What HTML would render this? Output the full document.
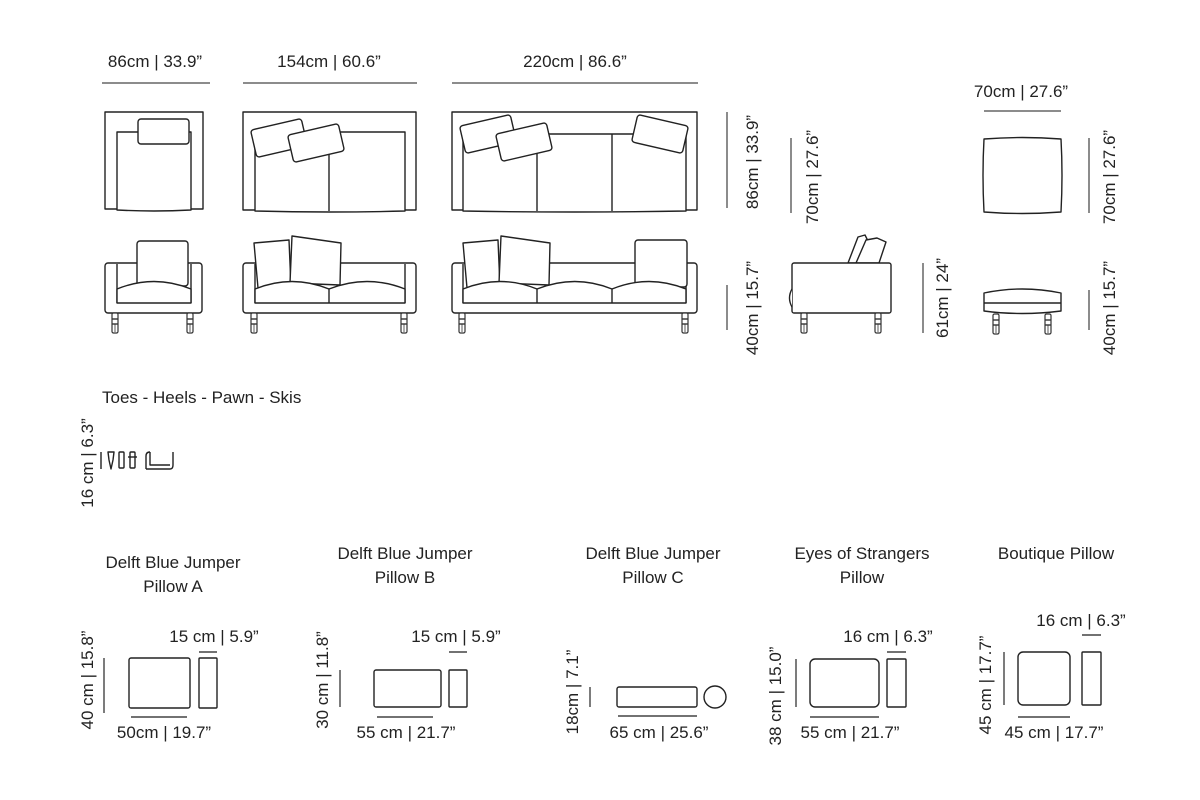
<!DOCTYPE html>
<html><head><meta charset="utf-8"><style>
html,body{margin:0;padding:0;background:#fff;}
svg{display:block;}
text{font-family:"Liberation Sans",sans-serif;fill:#222;font-size:17px;}
</style></head><body>
<svg width="1200" height="800" viewBox="0 0 1200 800" xmlns="http://www.w3.org/2000/svg">
<defs>
<g id="leg">
<rect x="-3" y="0" width="6" height="20" rx="1.5" fill="#fff" stroke="#333" stroke-width="1.2"/>
<line x1="-3" y1="6" x2="3" y2="6" stroke="#333"/>
<line x1="-3" y1="11" x2="3" y2="11" stroke="#333"/>
<line x1="0" y1="11" x2="0" y2="19" stroke="#333" stroke-width="0.8"/>
</g>
</defs>
<g stroke="#222" stroke-width="1.4" fill="#fff" stroke-linejoin="round">
<!-- dimension lines top -->
<g stroke="#666" stroke-width="1.5">
<line x1="102" y1="83" x2="210" y2="83"/>
<line x1="243" y1="83" x2="417" y2="83"/>
<line x1="452" y1="83" x2="698" y2="83"/>
<line x1="727" y1="112" x2="727" y2="208"/>
<line x1="791" y1="138" x2="791" y2="213"/>
<line x1="727" y1="285" x2="727" y2="330"/>
<line x1="923" y1="263" x2="923" y2="333"/>
<line x1="984" y1="111" x2="1061" y2="111"/>
<line x1="1089" y1="138" x2="1089" y2="213"/>
<line x1="1089" y1="290" x2="1089" y2="330"/>
</g>
<!-- armchair top -->
<rect x="105" y="112" width="98" height="97"/>
<path d="M117 132 H191 V210 Q154 212 117 210 Z"/>
<rect x="138" y="119" width="51" height="25" rx="3"/>
<!-- sofa 154 top -->
<rect x="243" y="112" width="173" height="98"/>
<path d="M255 132 H405 V211 Q330 213 255 211 Z"/>
<line x1="329" y1="132" x2="329" y2="211"/>
<rect x="253" y="124" width="52" height="28" rx="3" transform="rotate(-13 279 138)"/>
<rect x="290" y="129" width="52" height="28" rx="3" transform="rotate(-13 316 143)"/>
<!-- sofa 220 top -->
<rect x="452" y="112" width="245" height="98"/>
<path d="M463 134 H686 V211 Q575 213 463 211 Z"/>
<line x1="537" y1="134" x2="537" y2="211"/>
<line x1="612" y1="134" x2="612" y2="211"/>
<rect x="462" y="120" width="52" height="28" rx="3" transform="rotate(-13 488 134)"/>
<rect x="498" y="128" width="52" height="28" rx="3" transform="rotate(-13 524 142)"/>
<rect x="634" y="120" width="52" height="28" rx="3" transform="rotate(13 660 134)"/>
<!-- armchair front -->
<rect x="105" y="263" width="97" height="50" rx="3"/>
<line x1="117" y1="264" x2="117" y2="303"/>
<line x1="191" y1="264" x2="191" y2="303"/>
<rect x="137" y="241" width="51" height="45" rx="3"/>
<path d="M117 289 Q154 274 191 289 V303 H117 Z"/>
<use href="#leg" x="115" y="313"/><use href="#leg" x="190" y="313"/>
<!-- sofa 154 front -->
<rect x="243" y="263" width="173" height="50" rx="3"/>
<line x1="255" y1="264" x2="255" y2="303"/>
<line x1="405" y1="264" x2="405" y2="303"/>
<path d="M254 243 L289 240 L291 287 L258 288 Z"/>
<path d="M292 236 L341 243 L340 285 L290 283 Z"/>
<path d="M255 289 Q292 274 329 289 Q367 274 405 289 V303 H255 Z"/>
<line x1="329" y1="289" x2="329" y2="303"/>
<use href="#leg" x="254" y="313"/><use href="#leg" x="404" y="313"/>
<!-- sofa 220 front -->
<rect x="452" y="263" width="245" height="50" rx="3"/>
<line x1="463" y1="264" x2="463" y2="303"/>
<line x1="686" y1="264" x2="686" y2="303"/>
<path d="M463 243 L498 240 L500 287 L467 288 Z"/>
<path d="M501 236 L550 243 L549 285 L499 283 Z"/>
<rect x="635" y="240" width="52" height="47" rx="3"/>
<path d="M463 289 Q500 274 537 289 Q575 274 612 289 Q649 274 686 289 V303 H463 Z"/>
<line x1="537" y1="289" x2="537" y2="303"/>
<line x1="612" y1="289" x2="612" y2="303"/>
<use href="#leg" x="462" y="313"/><use href="#leg" x="685" y="313"/>
<!-- side view -->
<path d="M848 263 L858 237 L865 235 L867 239 L857 263 Z"/>
<path d="M856 263 L866 240 L877 238 L886 242 L879 263 Z"/>
<rect x="792" y="263" width="99" height="50" rx="2"/>
<path d="M792 289 Q787 298 792 307"/>
<use href="#leg" x="804" y="313"/><use href="#leg" x="878" y="313"/>
<!-- ottoman -->
<path d="M984 139 Q1022 136 1061 139 Q1063 175 1061 212 Q1022 215 984 212 Q982 175 984 139 Z"/>
<path d="M984 293 Q1022 285 1061 293 V311 Q1022 316 984 311 Z"/>
<line x1="984" y1="303" x2="1061" y2="303"/>
<use href="#leg" x="996" y="314"/><use href="#leg" x="1048" y="314"/>
<!-- legs icons -->
<line x1="101" y1="452" x2="101" y2="469"/>
<path d="M108 452 H114 L113 460 L111 469 L109 460 Z"/>
<rect x="119" y="452" width="5" height="16" rx="1"/>
<rect x="130" y="452" width="5" height="16" rx="1"/>
<line x1="128" y1="457" x2="137" y2="457"/>
<path d="M146 469 V456 Q146 452 150 452 M146 469 H170 Q173 469 173 465 V452 M150 452 V465 H170"/>
<!-- pillows bottom -->
<g stroke="#444">
<line x1="104" y1="658" x2="104" y2="713"/>
<line x1="131" y1="717" x2="187" y2="717"/>
<line x1="199" y1="652" x2="217" y2="652"/>
<line x1="340" y1="670" x2="340" y2="707"/>
<line x1="377" y1="717" x2="433" y2="717"/>
<line x1="449" y1="652" x2="467" y2="652"/>
<line x1="590" y1="687" x2="590" y2="707"/>
<line x1="618" y1="716" x2="697" y2="716"/>
<line x1="796" y1="659" x2="796" y2="707"/>
<line x1="810" y1="717" x2="879" y2="717"/>
<line x1="887" y1="652" x2="906" y2="652"/>
<line x1="1004" y1="652" x2="1004" y2="705"/>
<line x1="1018" y1="717" x2="1070" y2="717"/>
<line x1="1082" y1="635" x2="1101" y2="635"/>
</g>
<rect x="129" y="658" width="61" height="50" rx="2"/>
<rect x="199" y="658" width="18" height="50" rx="1"/>
<rect x="374" y="670" width="67" height="37" rx="2"/>
<rect x="449" y="670" width="18" height="37" rx="1"/>
<rect x="617" y="687" width="80" height="20" rx="2"/>
<circle cx="715" cy="697" r="11"/>
<rect x="810" y="659" width="69" height="48" rx="5"/>
<rect x="887" y="659" width="19" height="48" rx="1"/>
<rect x="1018" y="652" width="52" height="53" rx="5"/>
<rect x="1082" y="652" width="19" height="53" rx="1"/>
</g>
<!-- text -->
<g text-anchor="middle">
<text x="155" y="67">86cm | 33.9”</text>
<text x="329" y="67">154cm | 60.6”</text>
<text x="575" y="67">220cm | 86.6”</text>
<text x="1021" y="97">70cm | 27.6”</text>
<text transform="translate(758 162) rotate(-90)">86cm | 33.9”</text>
<text transform="translate(818 177) rotate(-90)">70cm | 27.6”</text>
<text transform="translate(758 308) rotate(-90)">40cm | 15.7”</text>
<text transform="translate(948 298) rotate(-90)">61cm | 24”</text>
<text transform="translate(1115 177) rotate(-90)">70cm | 27.6”</text>
<text transform="translate(1115 308) rotate(-90)">40cm | 15.7”</text>
<text transform="translate(93 463) rotate(-90)">16 cm | 6.3”</text>
<text x="173" y="568">Delft Blue Jumper</text>
<text x="173" y="592">Pillow A</text>
<text x="405" y="559">Delft Blue Jumper</text>
<text x="405" y="583">Pillow B</text>
<text x="653" y="559">Delft Blue Jumper</text>
<text x="653" y="583">Pillow C</text>
<text x="862" y="559">Eyes of Strangers</text>
<text x="862" y="583">Pillow</text>
<text x="1056" y="559">Boutique Pillow</text>
<text x="214" y="642">15 cm | 5.9”</text>
<text x="456" y="642">15 cm | 5.9”</text>
<text x="888" y="642">16 cm | 6.3”</text>
<text x="1081" y="626">16 cm | 6.3”</text>
<text x="164" y="738">50cm | 19.7”</text>
<text x="406" y="738">55 cm | 21.7”</text>
<text x="659" y="738">65 cm | 25.6”</text>
<text x="850" y="738">55 cm | 21.7”</text>
<text x="1054" y="738">45 cm | 17.7”</text>
<text transform="translate(93 680) rotate(-90)">40 cm | 15.8”</text>
<text transform="translate(328 680) rotate(-90)">30 cm | 11.8”</text>
<text transform="translate(578 692) rotate(-90)">18cm | 7.1”</text>
<text transform="translate(781 696) rotate(-90)">38 cm | 15.0”</text>
<text transform="translate(991 685) rotate(-90)">45 cm | 17.7”</text>
</g>
<text x="102" y="403">Toes - Heels - Pawn - Skis</text>
</svg>
</body></html>
